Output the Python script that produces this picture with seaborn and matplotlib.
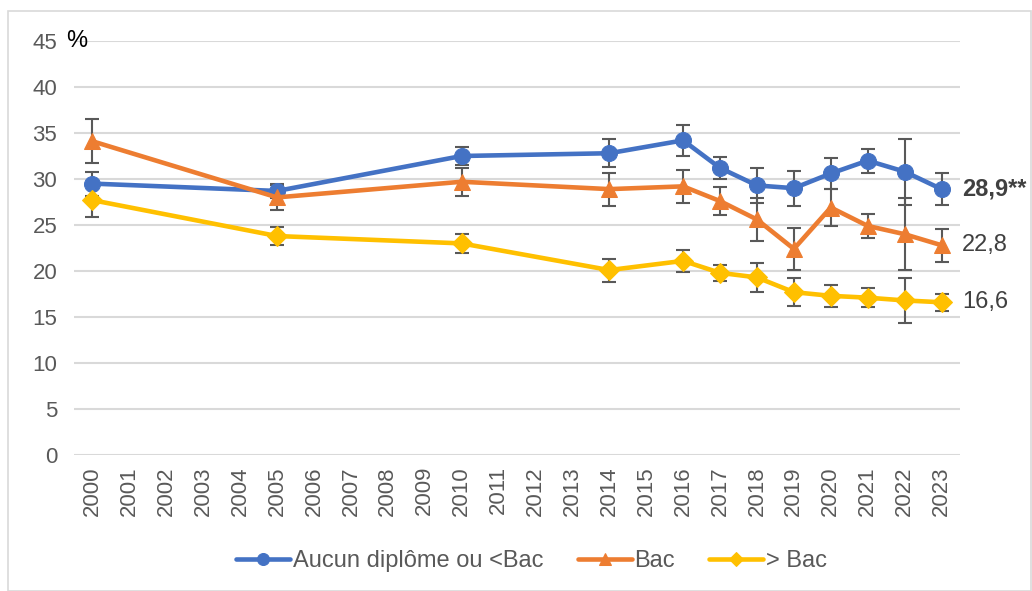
import matplotlib
matplotlib.use("Agg")
import matplotlib.pyplot as plt
import seaborn as sns
import pandas as pd
from matplotlib.patches import Rectangle

years = [2000, 2005, 2010, 2014, 2016, 2017, 2018, 2019, 2020, 2021, 2022, 2023]
aucun = [29.5, 28.7, 32.5, 32.8, 34.2, 31.2, 29.3, 29.0, 30.6, 32.0, 30.8, 28.9]
aucun_err = [1.3, 0.8, 1.0, 1.5, 1.7, 1.2, 1.9, 1.9, 1.7, 1.3, 3.6, 1.7]
bac = [34.1, 28.0, 29.7, 28.9, 29.2, 27.6, 25.6, 22.4, 26.9, 24.9, 24.0, 22.8]
bac_err = [2.4, 1.4, 1.5, 1.8, 1.8, 1.5, 2.3, 2.3, 2.0, 1.3, 3.9, 1.8]
sup = [27.7, 23.8, 23.0, 20.1, 21.1, 19.8, 19.3, 17.7, 17.3, 17.1, 16.8, 16.6]
sup_err = [1.8, 1.0, 1.0, 1.25, 1.2, 0.9, 1.6, 1.5, 1.2, 1.0, 2.4, 0.9]
series_names = ["Aucun diplôme ou <Bac", "Bac", "> Bac"]
end_labels = ["28,9**", "22,8", "16,6"]
tick_years = list(range(2000, 2024))

colors = ["#4472C4", "#ED7D31", "#FFC000"]
markers = ["o", "^", "D"]
msizes = [11.5, 12, 10]

sns.set_theme(style="white")
plt.rcParams["font.family"] = ["Liberation Sans", "DejaVu Sans"]

fig = plt.figure(figsize=(10.32, 5.91), dpi=100)
ax = fig.add_axes([74/1032, 1-455/591, (960-74)/1032, (455-41)/591])

frames = []
for name, vals in zip(series_names, [aucun, bac, sup]):
    frames.append(pd.DataFrame({"year": years, "val": vals, "serie": name}))
df = pd.concat(frames)

for name, vals, errs in zip(series_names, [aucun, bac, sup], [aucun_err, bac_err, sup_err]):
    ax.errorbar(years, vals, yerr=errs, fmt="none", ecolor="#595959",
                elinewidth=1.5, capsize=5, capthick=1.5, zorder=2)

for name, c, m, ms in zip(series_names, colors, markers, msizes):
    sub = df[df["serie"] == name]
    sns.lineplot(data=sub, x="year", y="val", ax=ax, color=c, marker=m,
                 markersize=ms, markeredgecolor=c, linewidth=3.3,
                 label=name, zorder=3)

ax.set_xlim(1999.5, 2023.5)
ax.set_ylim(0, 45)
ax.set_yticks(range(0, 50, 5))
ax.set_xticks(tick_years)
ax.set_xticklabels([str(y) for y in tick_years], rotation=90)
ax.tick_params(axis="both", colors="#595959", labelsize=16, length=0)
ax.tick_params(axis="y", pad=12)
ax.tick_params(axis="x", pad=8)
ax.grid(axis="y", color="#D9D9D9", linewidth=1.5)
ax.set_axisbelow(True)
for s in ax.spines.values():
    s.set_visible(False)
ax.set_xlabel("")
ax.set_ylabel("")

ax.text(1999.3, 45, "%", fontsize=17, color="black", va="center", ha="left")

for lab, vals, fw in zip(end_labels, [aucun, bac, sup], ["bold", "normal", "normal"]):
    ax.annotate(lab, (years[-1], vals[-1]), xytext=(15, 0), textcoords="offset points",
                fontsize=17, color="#404040", fontweight=fw, va="center", ha="left",
                annotation_clip=False)

ax.get_legend().remove()
handles, labels = ax.get_legend_handles_labels()
fig.legend(handles, labels, loc="center", bbox_to_anchor=(0.515, 1-561/591), ncol=3,
           frameon=False, fontsize=17, handlelength=2.3, columnspacing=1.45,
           handletextpad=0.1, labelcolor="#595959", markerscale=0.75)

fig.patches.append(Rectangle((8/1032, 0), 1-9/1032, 1-11/591, transform=fig.transFigure,
                             fill=False, edgecolor="#D9D9D9", linewidth=1.2))

fig.savefig("out.png", dpi=100)
